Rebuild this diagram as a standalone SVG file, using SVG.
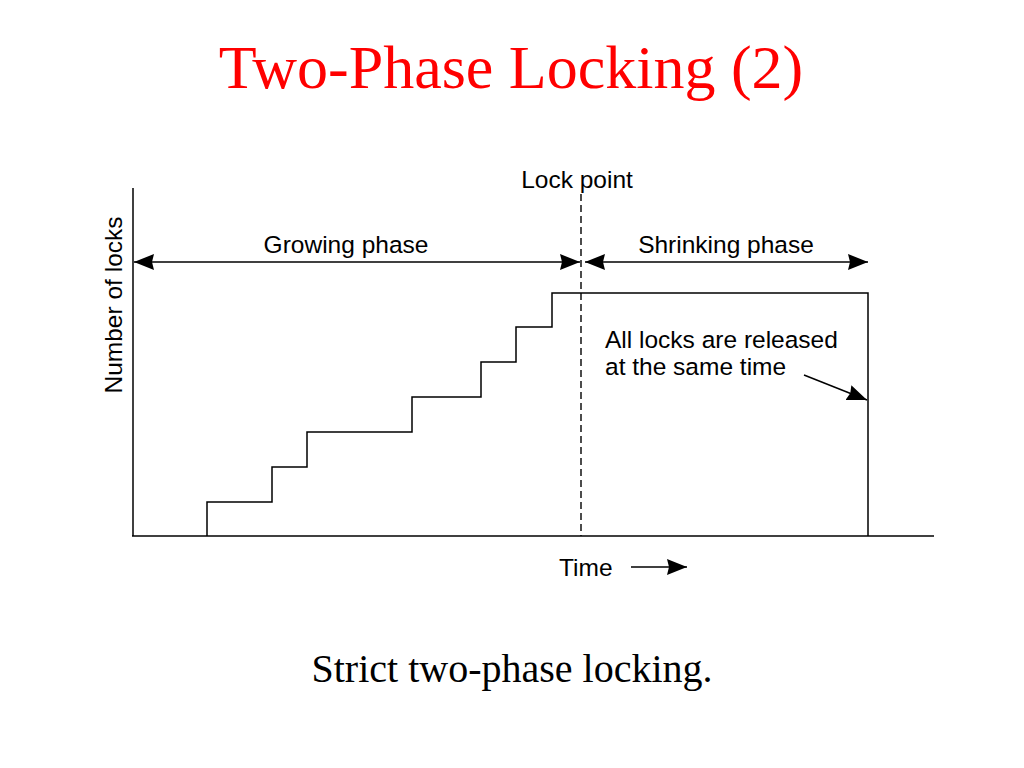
<svg xmlns="http://www.w3.org/2000/svg" width="1024" height="768" viewBox="0 0 1024 768">
<defs>
<style>
.ln{fill:none;stroke:#000;stroke-width:1.5}
.dash{fill:none;stroke:#000;stroke-width:1.4;stroke-dasharray:7,4}
.lbl{font-family:"Liberation Sans",Arial,sans-serif;font-size:24.5px;fill:#000}
.ttl{font-family:"Liberation Serif","Times New Roman",serif;font-size:62px;fill:#f00}
.cap{font-family:"Liberation Serif","Times New Roman",serif;font-size:40px;fill:#000}
</style>
<marker id="ah" viewBox="0 0 20 16" refX="20" refY="8" markerWidth="20" markerHeight="16" markerUnits="userSpaceOnUse" orient="auto-start-reverse">
<path d="M0,0 L20,8 L0,16 L2,8 Z" fill="#000"/>
</marker>
</defs>
<rect width="1024" height="768" fill="#fff"/>
<text class="ttl" x="511" y="88" text-anchor="middle">Two-Phase Locking (2)</text>
<g id="axes">
<line class="ln" x1="133" y1="188" x2="133" y2="536"/>
<line class="ln" x1="132" y1="536" x2="934" y2="536"/>
</g>
<g id="ylabel"><text class="lbl" transform="translate(122,305) rotate(-90)" text-anchor="middle">Number of locks</text></g>
<g id="lockpoint">
<text class="lbl" x="577" y="188" text-anchor="middle">Lock point</text>
<line class="dash" x1="581" y1="194" x2="581" y2="536"/>
</g>
<g id="steps">
<polyline class="ln" points="207,536 207,502 272,502 272,467 307,467 307,432 412,432 412,397 481,397 481,362 516,362 516,327 552,327 552,293 868,293 868,536"/>
</g>
<g id="growing">
<text class="lbl" x="346" y="253" text-anchor="middle">Growing phase</text>
</g>
<g id="shrinking">
<text class="lbl" x="726" y="253" text-anchor="middle">Shrinking phase</text>
</g>
<g id="note">
<text class="lbl" x="605" y="348">All locks are released</text>
<text class="lbl" x="605" y="375">at the same time</text>
</g>
<g id="time">
<text class="lbl" x="559" y="576">Time</text>
</g>
<g id="connectors">
<line class="ln" x1="134" y1="262" x2="580" y2="262" marker-start="url(#ah)" marker-end="url(#ah)"/>
<line class="ln" x1="585" y1="262" x2="868" y2="262" marker-start="url(#ah)" marker-end="url(#ah)"/>
<line class="ln" x1="804" y1="375" x2="867" y2="400" stroke-width="1.2" marker-end="url(#ah)"/>
<line class="ln" x1="631" y1="567" x2="687" y2="567" marker-end="url(#ah)"/>
</g>
<text class="cap" x="512" y="682" text-anchor="middle">Strict two-phase locking.</text>
</svg>
